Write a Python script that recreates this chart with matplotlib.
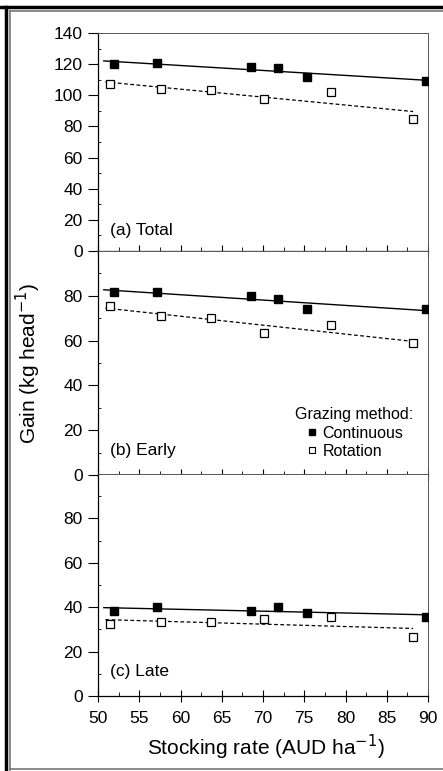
import numpy as np
import matplotlib
matplotlib.use("Agg")
import matplotlib.pyplot as plt
from matplotlib.lines import Line2D
from matplotlib.ticker import MultipleLocator

plt.rcParams['font.family'] = ['Liberation Sans', 'DejaVu Sans']

# ------------------------------------------
# Datos
# ------------------------------------------
x_cont = [51.9, 57.1, 68.6, 71.8, 75.3, 89.8]
x_rot = [51.5, 57.6, 63.7, 70.1, 78.3, 88.2]

total_cont = [119.9, 120.9, 118.2, 117.7, 111.5, 109.2]
total_rot = [107.1, 103.8, 103.4, 97.6, 101.9, 84.6]

early_cont = [81.8, 81.8, 79.8, 78.5, 74.0, 74.0]
early_rot = [75.4, 70.9, 70.1, 63.3, 67.1, 58.8]

late_cont = [38.4, 39.9, 38.3, 39.9, 37.5, 35.7]
late_rot = [32.3, 33.2, 33.5, 34.5, 35.4, 26.4]

paneles = [
    ("(a) Total", total_cont, total_rot, 140),
    ("(b) Early", early_cont, early_rot, 100),
    ("(c) Late", late_cont, late_rot, 100),
]

W, H = 443, 771
fig = plt.figure(figsize=(W / 100, H / 100), dpi=100)

# posiciones en pixeles (top, bottom)
izq, der = 98, 428
limites = [(33, 251), (251, 475), (474, 696)]
MS = 6

ejes = []
for i, ((titulo, yc, yr, ymax), (top, bot)) in enumerate(zip(paneles, limites)):
    ax = fig.add_axes([izq / W, 1 - bot / H, (der - izq) / W, (bot - top) / H])
    ejes.append(ax)

    ax.plot(x_cont, yc, 's', color='black', markersize=MS, zorder=3)
    ax.plot(x_rot, yr, 's', markerfacecolor='white', markeredgecolor='black',
            markersize=MS, markeredgewidth=0.9, zorder=3)

    # rectas de regresion
    m, b = np.polyfit(x_cont, yc, 1)
    xs = np.array([min(x_cont) - 1.2, max(x_cont)])
    ax.plot(xs, m * xs + b, '-', color='black', linewidth=1.0)
    m, b = np.polyfit(x_rot, yr, 1)
    xs = np.array([min(x_rot) - 0.6, max(x_rot)])
    ax.plot(xs, m * xs + b, '--', color='black', linewidth=0.9, dashes=(3, 2))

    ax.set_xlim(50, 90)
    ax.set_ylim(0, ymax)
    ax.yaxis.set_major_locator(MultipleLocator(20))
    ax.yaxis.set_minor_locator(MultipleLocator(10))
    ax.xaxis.set_major_locator(MultipleLocator(5))
    ax.xaxis.set_minor_locator(MultipleLocator(2.5))
    ax.tick_params(axis='y', which='major', direction='out', length=7, width=0.8,
                   labelsize=12.5, pad=4)
    ax.tick_params(axis='y', which='minor', direction='in', length=2, width=0.6)
    ax.tick_params(axis='x', which='major', direction='inout', length=9, width=0.8,
                   labelsize=12.5, pad=6)
    ax.tick_params(axis='x', which='minor', direction='in', length=3, width=0.6)

    if ymax == 100:
        ax.set_yticks([0, 20, 40, 60, 80])
        ax.yaxis.set_minor_locator(MultipleLocator(10))

    for s in ['top', 'right']:
        ax.spines[s].set_linewidth(0.7)
        ax.spines[s].set_color('#555555')
    for s in ['left', 'bottom']:
        ax.spines[s].set_linewidth(0.9)

    if i < 2:
        ax.tick_params(axis='x', labelbottom=False)

    ax.text(0.035, 0.06 if i == 0 else 0.075, titulo, transform=ax.transAxes,
            fontsize=12.5, ha='left', va='bottom')

# leyenda del panel b
manejadores = [
    Line2D([], [], marker='s', linestyle='none', color='black', markersize=4.5),
    Line2D([], [], marker='s', linestyle='none', markerfacecolor='white',
           markeredgecolor='black', markersize=4.5, markeredgewidth=0.8),
]
ejes[1].legend(manejadores, ['Continuous', 'Rotation'], title='Grazing method:',
               loc='lower right', bbox_to_anchor=(0.985, 0.03), frameon=False,
               fontsize=11.5, title_fontsize=11.5, handletextpad=0.2,
               handlelength=0.9, borderaxespad=0.2, labelspacing=0.2)

fig.text(28 / W, 1 - 363 / H, 'Gain (kg head$^{-1}$)', rotation=90,
         ha='center', va='center', fontsize=15)
fig.text(266 / W, 1 - 747 / H, 'Stocking rate (AUD ha$^{-1}$)',
         ha='center', va='center', fontsize=15)

# marco doble alrededor de la figura
fig.add_artist(Line2D([0, 1], [1 - 7 / H, 1 - 7 / H], transform=fig.transFigure,
                      color='black', linewidth=2.5))
fig.add_artist(Line2D([6 / W, 6 / W], [0, 1 - 7 / H], transform=fig.transFigure,
                      color='black', linewidth=2.5))
fig.add_artist(Line2D([10 / W, 1], [1 - 11 / H, 1 - 11 / H], transform=fig.transFigure,
                      color='#777777', linewidth=1.2))
fig.add_artist(Line2D([10 / W, 10 / W], [1 / H, 1 - 11 / H], transform=fig.transFigure,
                      color='#777777', linewidth=1.2))
fig.add_artist(Line2D([10 / W, 1], [2 / H, 2 / H], transform=fig.transFigure,
                      color='#777777', linewidth=1.2))

fig.savefig('out.png', dpi=100)
